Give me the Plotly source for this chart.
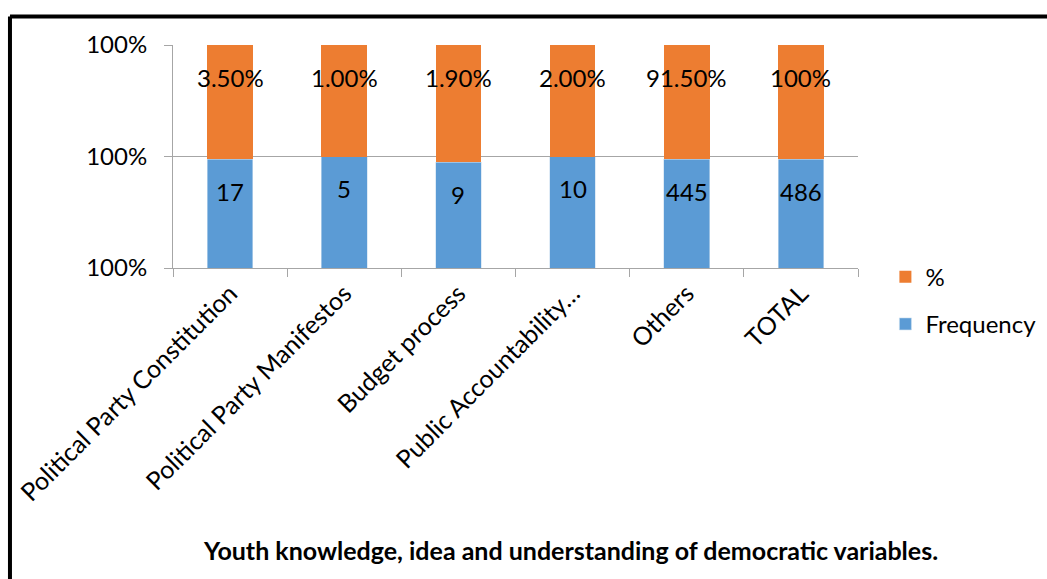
import plotly.graph_objects as go

# Categories and values
categories = ["Political Party Constitution", "Political Party Manifestos",
              "Budget process", "Public Accountability…", "Others", "TOTAL"]
frequency = [17, 5, 9, 10, 445, 486]
percent_labels = ["3.50%", "1.00%", "1.90%", "2.00%", "91.50%", "100%"]

# Segment heights on the (stacked) value axis
freq_height = [0.975, 1.0, 0.95, 1.0, 0.975, 0.975]
pct_height = [1.025, 1.0, 1.05, 1.0, 1.025, 1.025]

y_tickvals = [0, 1, 2]
y_ticktext = ["100%", "100%", "100%"]

BLUE = "#5B9BD5"
ORANGE = "#ED7D31"
GRID = "#A6A6A6"
FONT = "Lato"

fig = go.Figure()
fig.add_trace(go.Bar(
    x=categories, y=freq_height, name="Frequency",
    marker=dict(color=BLUE, line=dict(color="#C9DDF0", width=0.6)),
    legendgroup="f", legendrank=2, hoverinfo="skip",
))
fig.add_trace(go.Bar(
    x=categories, y=pct_height, name="%",
    marker=dict(color=ORANGE, line=dict(width=0)),
    legendgroup="p", legendrank=1, hoverinfo="skip",
))

# Value labels just below the top of each segment
for cat, f, fh, p, ph in zip(categories, frequency, freq_height,
                             percent_labels, pct_height):
    fig.add_annotation(x=cat, y=fh, text=str(f), showarrow=False,
                       yshift=-32, font=dict(family=FONT, size=24, color="black"))
    fig.add_annotation(x=cat, y=fh + ph, text=p, showarrow=False,
                       yshift=-32, font=dict(family=FONT, size=24, color="black"))

# Chart caption
fig.add_annotation(
    text="<b>Youth knowledge, idea and understanding of democratic variables.</b>",
    xref="paper", yref="paper", x=0.5796, y=-1.2646,
    xanchor="center", yanchor="middle", showarrow=False,
    font=dict(family=FONT, size=25, color="black"),
)

# Frame lines on the left and top
fig.add_shape(type="line", xref="paper", yref="paper",
              x0=-0.238, x1=1.3, y0=1.128, y1=1.128,
              line=dict(color="black", width=4))
fig.add_shape(type="line", xref="paper", yref="paper",
              x0=-0.238, x1=-0.238, y0=1.128, y1=-1.45,
              line=dict(color="black", width=4))

fig.update_layout(
    width=1047, height=579,
    margin=dict(l=173, r=189, t=45, b=311, autoexpand=False),
    paper_bgcolor="white", plot_bgcolor="white",
    barmode="stack", bargap=0.6,
    font=dict(family=FONT, size=24, color="black"),
    showlegend=True,
    legend=dict(x=1.04, y=0.06, xanchor="left", yanchor="top",
                traceorder="grouped", tracegroupgap=13,
                font=dict(family=FONT, size=24, color="black"),
                itemwidth=30, bgcolor="rgba(0,0,0,0)"),
    xaxis=dict(
        type="category", tickangle=-45, tickson="boundaries",
        ticks="outside", ticklen=8, tickcolor=GRID,
        showline=True, linecolor=GRID, linewidth=1, automargin=False,
        showgrid=False, tickfont=dict(family=FONT, size=25, color="black"),
    ),
    yaxis=dict(
        range=[0, 2], tickvals=y_tickvals, ticktext=y_ticktext,
        ticks="outside", ticklen=8, tickcolor=GRID,
        showline=True, linecolor=GRID, linewidth=1, automargin=False,
        showgrid=True, gridcolor=GRID, gridwidth=1, zeroline=False,
        ticklabelstandoff=12,
        tickfont=dict(family=FONT, size=24, color="black"),
    ),
)

fig.write_html("out.html")
